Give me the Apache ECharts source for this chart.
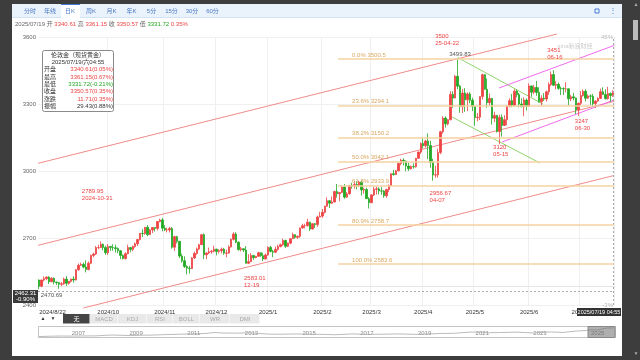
<!DOCTYPE html>
<html><head><meta charset="utf-8">
<script src="https://cdn.jsdelivr.net/npm/echarts@6/dist/echarts.min.js"></script>
<style>
html,body{margin:0;padding:0;background:#3d3d3d;overflow:hidden;}
#panel{position:absolute;left:12px;top:4px;width:610px;height:352px;background:#fff;}
#c{position:absolute;left:0;top:0;width:640px;height:360px;}
</style>
</head><body><div id="panel"></div><div id="c"></div>
<script>
// ---------- data ----------
const dates = [
'2024/8/22','2024/8/23','2024/8/26','2024/8/27','2024/8/28','2024/8/29','2024/8/30',
'2024/9/2','2024/9/3','2024/9/4','2024/9/5','2024/9/6','2024/9/9','2024/9/10','2024/9/11','2024/9/12','2024/9/13','2024/9/16','2024/9/17','2024/9/18','2024/9/19','2024/9/20','2024/9/23','2024/9/24','2024/9/25','2024/9/26','2024/9/27','2024/9/30',
'2024/10/1','2024/10/2','2024/10/3','2024/10/4','2024/10/7','2024/10/8','2024/10/9','2024/10/10','2024/10/11','2024/10/14','2024/10/15','2024/10/16','2024/10/17','2024/10/18','2024/10/21','2024/10/22','2024/10/23','2024/10/24','2024/10/25','2024/10/28','2024/10/29','2024/10/30','2024/10/31',
'2024/11/1','2024/11/4','2024/11/5','2024/11/6','2024/11/7','2024/11/8','2024/11/11','2024/11/12','2024/11/13','2024/11/14','2024/11/15','2024/11/18','2024/11/19','2024/11/20','2024/11/21','2024/11/22','2024/11/25','2024/11/26','2024/11/27','2024/11/28','2024/11/29',
'2024/12/2','2024/12/3','2024/12/4','2024/12/5','2024/12/6','2024/12/9','2024/12/10','2024/12/11','2024/12/12','2024/12/13','2024/12/16','2024/12/17','2024/12/18','2024/12/19','2024/12/20','2024/12/23','2024/12/24','2024/12/26','2024/12/27','2024/12/30','2024/12/31',
'2025/1/2','2025/1/3','2025/1/6','2025/1/7','2025/1/8','2025/1/9','2025/1/10','2025/1/13','2025/1/14','2025/1/15','2025/1/16','2025/1/17','2025/1/20','2025/1/21','2025/1/22','2025/1/23','2025/1/24','2025/1/27','2025/1/28','2025/1/29','2025/1/30','2025/1/31',
'2025/2/3','2025/2/4','2025/2/5','2025/2/6','2025/2/7','2025/2/10','2025/2/11','2025/2/12','2025/2/13','2025/2/14','2025/2/17','2025/2/18','2025/2/19','2025/2/20','2025/2/21','2025/2/24','2025/2/25','2025/2/26','2025/2/27','2025/2/28',
'2025/3/3','2025/3/4','2025/3/5','2025/3/6','2025/3/7','2025/3/10','2025/3/11','2025/3/12','2025/3/13','2025/3/14','2025/3/17','2025/3/18','2025/3/19','2025/3/20','2025/3/21','2025/3/24','2025/3/25','2025/3/26','2025/3/27','2025/3/28','2025/3/31',
'2025/4/1','2025/4/2','2025/4/3','2025/4/4','2025/4/7','2025/4/8','2025/4/9','2025/4/10','2025/4/11','2025/4/14','2025/4/15','2025/4/16','2025/4/17','2025/4/21','2025/4/22','2025/4/23','2025/4/24','2025/4/25','2025/4/28','2025/4/29','2025/4/30',
'2025/5/1','2025/5/2','2025/5/5','2025/5/6','2025/5/7','2025/5/8','2025/5/9','2025/5/12','2025/5/13','2025/5/14','2025/5/15','2025/5/16','2025/5/19','2025/5/20','2025/5/21','2025/5/22','2025/5/23','2025/5/26','2025/5/27','2025/5/28','2025/5/29','2025/5/30',
'2025/6/2','2025/6/3','2025/6/4','2025/6/5','2025/6/6','2025/6/9','2025/6/10','2025/6/11','2025/6/12','2025/6/13','2025/6/16','2025/6/17','2025/6/18','2025/6/19','2025/6/20','2025/6/23','2025/6/24','2025/6/25','2025/6/26','2025/6/27','2025/6/30',
'2025/7/1','2025/7/2','2025/7/3','2025/7/4','2025/7/7','2025/7/8','2025/7/9','2025/7/10','2025/7/11','2025/7/14','2025/7/15','2025/7/16','2025/7/17','2025/7/18'
];
const opens = [
2512,2484,2512,2518,2525,2504,2520,
2503,2500,2493,2495,2516,2497,2506,2516,2512,2558,2578,2582,2570,2559,2587,2622,2628,2657,2657,2672,2658,
2634,2662,2657,2656,2653,2643,2622,2608,2630,2657,2649,2662,2674,2693,2721,2720,2748,2715,2736,2747,2743,2774,2781,
2744,2736,2736,2742,2659,2706,2685,2619,2598,2572,2565,2563,2611,2631,2651,2670,2715,2625,2633,2638,2641,
2650,2640,2643,2650,2632,2633,2660,2694,2718,2681,2648,2652,2646,2587,2594,2622,2612,2618,2634,2621,2606,
2624,2658,2640,2636,2649,2662,2670,2689,2663,2677,2697,2715,2703,2708,2745,2755,2755,2771,2740,2764,2760,2794,
2798,2815,2842,2867,2856,2861,2908,2898,2904,2928,2883,2898,2935,2933,2939,2936,2951,2915,2917,2876,
2858,2893,2918,2920,2911,2910,2889,2917,2935,2988,2984,3001,3034,3048,3044,3022,3010,3020,3019,3057,3085,
3123,3113,3134,3114,3038,2982,2983,3083,3176,3237,3211,3229,3343,3327,3424,3380,3288,3349,3319,3345,3317,
3288,3239,3241,3334,3431,3366,3306,3325,3236,3249,3177,3240,3204,3230,3290,3315,3294,3357,3342,3300,3288,3318,
3289,3381,3353,3374,3352,3310,3326,3322,3355,3387,3432,3384,3388,3370,3369,3368,3368,3323,3332,3327,3274,
3303,3338,3357,3326,3336,3335,3302,3313,3325,3355,3343,3324,3347,3340.61
];
const highs = [
2514,2513,2528,2528,2529,2524,2523,
2504,2503,2503,2523,2529,2507,2518,2529,2560,2586,2590,2590,2600,2595,2625,2634,2664,2670,2685,2675,2665,
2673,2665,2672,2670,2658,2645,2626,2636,2670,2660,2666,2680,2696,2722,2740,2749,2758,2741,2748,2749,2775,2786,2789.95,
2758,2746,2750,2749,2710,2710,2686,2630,2618,2578,2575,2615,2639,2657,2674,2716,2721,2635,2657,2647,2665,
2652,2650,2657,2656,2648,2667,2697,2726,2726,2685,2660,2653,2664,2628,2633,2624,2620,2638,2636,2634,2630,
2662,2665,2647,2662,2670,2675,2697,2692,2679,2698,2724,2717,2711,2746,2764,2764,2786,2772,2766,2767,2800,2817,
2830,2845,2882,2870,2886,2912,2942,2906,2935,2942,2906,2938,2947,2955,2954,2956,2953,2925,2925,2883,
2896,2928,2930,2927,2930,2914,2921,2940,2990,3005,3004,3038,3055,3057,3047,3036,3025,3034,3059,3087,3128,
3149,3140,3168,3136,3055,3023,3100,3180,3245,3245,3232,3357,3357,3430,3499.83,3386,3367,3371,3352,3353,3328,
3290,3260,3334,3436,3433,3414,3347,3327,3265,3251,3252,3253,3250,3295,3325,3345,3366,3365,3350,3325,3330,3325,
3392,3382,3385,3403,3375,3339,3349,3360,3397,3446,3451,3403,3396,3378,3375,3398,3369,3341,3350,3329,3307,
3358,3365,3366,3343,3343,3345,3317,3330,3369,3375,3366,3377,3352,3361.15
];
const lows = [
2470.69,2480,2506,2511,2494,2503,2492,
2490,2472,2484,2490,2485,2491,2500,2500,2510,2553,2575,2564,2546,2555,2583,2614,2624,2650,2655,2645,2625,
2624,2642,2643,2635,2632,2605,2604,2603,2627,2636,2641,2656,2664,2689,2704,2714,2708,2714,2722,2729,2734,2770,2730,
2731,2725,2725,2652,2643,2676,2610,2589,2566,2537,2541,2561,2606,2625,2646,2669,2605,2605,2628,2630,2636,
2622,2631,2631,2625,2613,2630,2657,2689,2677,2643,2640,2637,2590,2583.01,2592,2602,2609,2615,2616,2597,2604,
2621,2636,2614,2634,2643,2658,2665,2656,2659,2672,2696,2697,2696,2701,2742,2743,2751,2731,2738,2745,2750,2793,
2790,2810,2840,2834,2853,2860,2881,2864,2902,2876,2881,2894,2921,2921,2918,2929,2890,2898,2875,2832,
2857,2888,2895,2895,2894,2880,2880,2905,2932,2979,2982,2998,3025,3025,2999,3000,3007,3011,3015,3055,3076,
3101,3105,3054,3015,2956.67,2970,2970,3075,3167,3194,3204,3228,3283,3325,3366,3260,3259,3265,3268,3303,3268,
3202,3222,3228,3320,3364,3283,3293,3208,3219,3172,3120,3154,3202,3205,3285,3286,3288,3330,3285,3285,3245,3271,
3288,3333,3344,3337,3306,3293,3314,3311,3341,3380,3381,3366,3363,3340,3340,3352,3295,3312,3316,3255,3247,
3296,3333,3311,3323,3296,3287,3282,3310,3322,3341,3320,3319,3310,3331.72
];
const closes = [
2484,2512,2518,2525,2504,2520,2503,
2500,2493,2495,2516,2497,2506,2516,2512,2558,2578,2582,2570,2559,2587,2622,2628,2657,2657,2672,2658,2634,
2662,2657,2656,2653,2643,2622,2608,2630,2657,2649,2662,2674,2693,2721,2720,2748,2715,2736,2747,2743,2774,2781,2744,
2736,2736,2742,2659,2706,2685,2619,2598,2572,2565,2563,2611,2631,2651,2670,2715,2625,2633,2638,2641,2650,
2640,2643,2650,2632,2633,2660,2694,2718,2681,2648,2652,2646,2587,2594,2622,2612,2618,2634,2621,2606,2624,
2658,2640,2636,2649,2662,2670,2689,2663,2677,2697,2715,2703,2708,2745,2755,2755,2771,2740,2764,2760,2794,2798,
2815,2842,2867,2856,2861,2908,2898,2904,2928,2883,2898,2935,2933,2939,2936,2951,2915,2917,2876,2858,
2893,2918,2920,2911,2910,2889,2917,2935,2988,2984,3001,3034,3048,3044,3022,3010,3020,3019,3057,3085,3123,
3113,3134,3114,3038,2982,2983,3083,3176,3237,3211,3229,3343,3327,3424,3380,3288,3349,3319,3345,3317,3288,
3239,3241,3334,3431,3366,3306,3325,3236,3249,3177,3240,3204,3230,3290,3315,3294,3357,3342,3300,3288,3318,3289,
3381,3353,3374,3352,3310,3326,3322,3355,3387,3432,3384,3388,3370,3369,3368,3368,3323,3332,3327,3274,3303,
3338,3357,3326,3336,3335,3302,3313,3325,3355,3343,3324,3347,3338,3350.57
];
const yTicks = [2400, 2700, 3000, 3300, 3600];
// trend lines: [candle index, price] endpoints
const redTop    = [[-0.5, 3034.4], [210.3, 3613.4]];
const redMid    = [[-0.5, 2667.2], [233.5, 3311.6]];
const redBottom = [[17.9, 2386.5], [233.5, 2979.8]];
const greenTop  = [[170.0, 3508], [204.6, 3300]];
const greenBot  = [[167.7, 3241.8], [203.4, 3035.8]];
const pinkTop   = [[186.8, 3371.6], [233.5, 3562]];
const pinkBot   = [[188.0, 3129.8], [233.5, 3317.9]];
// Fibonacci levels
const fibPct = ['0.0%', '23.6%', '38.2%', '50.0%', '61.8%', '80.9%', '100.0%'];
const fibVal = [3500.5, 3294.1, 3150.2, 3042.1, 2933.9, 2758.7, 2583.6];
const fibStart = 121.4;
// extreme annotations
const noteDate  = ['2025/4/22', '2025/4/22', '2025/6/16', '2025/5/15', '2025/6/30', '2025/4/7', '2024/12/19', '2024/10/31', '2024/8/22'];
const notePrice = [3499.83, 3499.83, 3451, 3120, 3247, 2956.67, 2583.01, 2789.95, 2470.69];
const noteText  = ['3500\n25-04-22', '3499.83', '3451\n06-16', '3120\n05-15', '3247\n06-30', '2956.67\n04-07', '2583.01\n12-19', '2789.95\n2024-10-31', '2470.69'];
const crossPrice = 2462.31;
// navigator (long history)
const navX = [2005.6,2006.0,2006.4,2006.8,2007.2,2007.6,2008.0,2008.2,2008.8,2009.2,2009.6,2010.0,2010.5,2011.0,2011.4,2011.7,2012.0,2012.5,2012.9,2013.3,2013.6,2014.0,2014.5,2015.0,2015.5,2015.9,2016.5,2017.0,2017.6,2018.1,2018.7,2019.0,2019.6,2020.0,2020.6,2021.0,2021.2,2021.6,2022.2,2022.8,2023.0,2023.4,2023.8,2024.0,2024.3,2024.6,2024.8,2025.0,2025.3,2025.55];
const navY = [440,560,630,610,660,680,900,960,780,900,950,1100,1230,1380,1480,1800,1650,1590,1720,1450,1280,1230,1320,1260,1170,1060,1330,1190,1250,1340,1190,1280,1500,1530,1970,1880,1730,1800,1930,1630,1830,1990,1830,2060,2330,2450,2740,2650,3300,3350];
const navYears = [2007, 2009, 2011, 2013, 2015, 2017, 2019, 2021, 2023, 2025];

// ---------- chart ----------
const F = '"Liberation Sans","Noto Sans CJK SC",sans-serif';
const RED = '#ee4444', GREEN = '#22a822', GRAY = '#555';
const N = dates.length;
const kData = dates.map((d, i) => [opens[i], closes[i], lows[i], highs[i]]);
const month = i => dates[i].split('/')[1];
const isMonthStart = i => i > 0 && month(i) !== month(i - 1);
const showLbl = i => i === 0 || (isMonthStart(i) && i > 12);
const base = closes[0];
const pctMin = (yTicks[0] / base - 1) * 100, pctMax = (yTicks[yTicks.length - 1] / base - 1) * 100;

const noteOffsets = [[-22,-26],[-8,-8],[-6,-23],[-6,0],[-3,3],[-3,10],[-4,11],[-80,-30],[2,3]];
const noteColors = [RED, GRAY, RED, RED, RED, RED, RED, RED, GRAY];

function seg(pts, color) {
  return { type: 'line', xAxisIndex: 1, yAxisIndex: 0, data: pts, symbol: 'none', clip: false, silent: true,
    lineStyle: { color: color, width: 1 }, z: 3, animation: false };
}

const option = {
  animation: false,
  textStyle: { fontFamily: F },
  grid: [
    { left: 38, width: 576, top: 37, height: 268 },
    { left: 38, width: 577, top: 326, height: 11 }
  ],
  xAxis: [
    { type: 'category', gridIndex: 0, data: dates.map((d, i) => i === 0 ? { value: d, textStyle: { align: 'left' } } : d),
      boundaryGap: true,
      axisLine: { show: true, lineStyle: { color: '#e6e6e6' } }, axisTick: { show: false },
      axisLabel: { interval: (i) => showLbl(i), fontSize: 6, color: '#333', margin: 4, alignMinLabel: 'left',
        formatter: (v, i) => i === 0 ? v : v.split('/').slice(0, 2).join('/') },
      splitLine: { show: true, interval: (i) => isMonthStart(i) && i > 12, lineStyle: { color: '#efefef', width: 1 } } },
    { type: 'value', gridIndex: 0, min: -0.5, max: N - 0.5, show: false },
    { type: 'value', gridIndex: 1, min: 2005.6, max: 2025.6, axisLine: { show: false }, axisTick: { show: false },
      splitLine: { show: false },
      axisLabel: { inside: true, customValues: navYears, fontSize: 6, color: '#888', margin: 1, formatter: v => String(v) } }
  ],
  yAxis: [
    { type: 'value', gridIndex: 0, min: yTicks[0], max: yTicks[yTicks.length - 1], interval: 300, position: 'left',
      axisLine: { show: false }, axisTick: { show: false },
      axisLabel: { fontSize: 6, color: '#666', margin: 2, formatter: v => String(v) },
      splitLine: { lineStyle: { color: '#f0f0f0' } } },
    { type: 'value', gridIndex: 0, min: pctMin, max: pctMax, position: 'right',
      axisLine: { show: false }, axisTick: { show: false }, splitLine: { show: false },
      axisLabel: { inside: true, customValues: [pctMin, pctMax], margin: 1, fontSize: 6, color: '#bbb',
        formatter: v => Math.round(v) + '%' } },
    { type: 'value', gridIndex: 1, min: 300, max: 4000, show: false }
  ],
  series: [
    { type: 'candlestick', xAxisIndex: 0, yAxisIndex: 0, data: kData, barWidth: 2, z: 4,
      itemStyle: { color: RED, color0: GREEN, borderColor: RED, borderColor0: GREEN, borderWidth: 0.8 },
      markPoint: { silent: true, symbol: 'rect', symbolSize: 1, itemStyle: { color: 'rgba(0,0,0,0)' },
        data: noteDate.map((d, k) => ({ coord: [d, notePrice[k]],
          label: { show: true, position: [0, 0], offset: noteOffsets[k], formatter: noteText[k], color: noteColors[k],
            fontSize: 6, lineHeight: 7, fontFamily: F, align: 'left', verticalAlign: 'top' } })) },
      markLine: { silent: true, symbol: 'none', label: { show: false },
        lineStyle: { color: '#aaa', type: [2, 2], width: 1 },
        data: [{ xAxis: N - 1 }, { yAxis: crossPrice }] } },
    seg(redTop, '#f58a8a'), seg(redMid, '#f58a8a'), seg(redBottom, '#f58a8a'),
    seg(greenTop, '#8fd46a'), seg(greenBot, '#8fd46a'),
    seg(pinkTop, '#ee6bee'), seg(pinkBot, '#ee6bee'),
    { type: 'line', xAxisIndex: 1, yAxisIndex: 0, data: [], silent: true, z: 2,
      markLine: { silent: true, symbol: 'none',
        lineStyle: { color: '#f4d3a1', width: 1.6, type: 'solid' },
        label: { show: true, position: 'insideStartTop', distance: [14, 1], fontSize: 6, color: '#d9a860', fontFamily: F },
        data: fibVal.map((v, k) => [
          { coord: [fibStart, v], label: { formatter: fibPct[k] + ' ' + v.toFixed(1) } },
          { coord: [N - 0.5, v] }]) } },
    { type: 'line', xAxisIndex: 2, yAxisIndex: 2, data: navX.map((x, i) => [x, navY[i]]), symbol: 'none', silent: true,
      lineStyle: { color: '#aaa', width: 0.8 } }
  ],
  graphic: { elements: buildGraphics() }
};

function txt(text, x, y, fill, size, align, extra) {
  return Object.assign({ type: 'text', silent: true, z: 50, style: { text: text, x: x, y: y, fill: fill, fontSize: size || 6,
    fontFamily: F, align: align || 'center', verticalAlign: 'middle' } }, extra || {});
}
function buildGraphics() {
  const g = [];
  // toolbar
  g.push({ type: 'rect', z: 40, silent: true, shape: { x: 12, y: 4, width: 610, height: 13 }, style: { fill: '#eaf2fc' } });
  g.push({ type: 'line', z: 41, silent: true, shape: { x1: 12, y1: 17.5, x2: 622, y2: 17.5 }, style: { stroke: '#d3e2f4', lineWidth: 1 } });
  g.push({ type: 'rect', z: 41, silent: true, shape: { x: 61, y: 4, width: 19, height: 14 }, style: { fill: '#fff' } });
  g.push({ type: 'line', z: 42, silent: true, shape: { x1: 61, y1: 4.5, x2: 80, y2: 4.5 }, style: { stroke: '#3f7ad0', lineWidth: 1 } });
  const tabs = ['分时', '年线', '日K', '周K', '月K', '年K', '5分', '15分', '30分', '60分'];
  const tabX = [30, 50, 70, 91, 111.5, 131.5, 151.5, 171.5, 192, 212.5];
  tabs.forEach((t, i) => g.push(txt(t, tabX[i], 11, '#4a78c2', 6)));
  // top-right icons
  const ic = '#4a7fd0';
  [[594, 8, 1, 1], [600, 8, -1, 1], [594, 14, 1, -1], [600, 14, -1, -1]].forEach(([x, y, sx, sy]) => {
    g.push({ type: 'polyline', z: 45, silent: true, shape: { points: [[x + sx * 2, y], [x + sx * 2, y + sy * 2], [x, y + sy * 2]] },
      style: { stroke: ic, lineWidth: 1, fill: null } });
  });
  g.push(txt('⋮', 613, 11, ic, 8));
  // info line
  g.push({ type: 'text', z: 50, silent: true, style: { x: 15, y: 24, verticalAlign: 'middle', fontFamily: F, fontSize: 6,
    text: '{g|2025/07/19 开 }{r|3340.61}{g| 高 }{r|3361.15}{g| 收 }{r|3350.57}{g| 低 }{n|3331.72}{r| 0.35%}',
    rich: { g: { fill: '#666', fontSize: 6, fontFamily: F }, r: { fill: RED, fontSize: 6, fontFamily: F }, n: { fill: GREEN, fontSize: 6, fontFamily: F } } } });
  // info box
  g.push({ type: 'rect', z: 60, silent: true, shape: { x: 42.5, y: 50.5, width: 71, height: 61, r: 2 },
    style: { fill: 'rgba(255,255,255,0.96)', stroke: '#8a8a8a', lineWidth: 1 } });
  g.push(txt('伦敦金（现货黄金）', 78, 55.5, '#333', 6, 'center', { z: 61 }));
  g.push(txt('2025/07/19/六04:55', 78, 62.5, '#333', 6, 'center', { z: 61 }));
  const rl = ['开盘', '最高', '最低', '收盘', '涨跌', '振幅'];
  const rv = ['3340.61(0.05%)', '3361.15(0.67%)', '3331.72(-0.21%)', '3350.57(0.35%)', '11.71(0.35%)', '29.43(0.88%)'];
  const rc = [RED, RED, GREEN, RED, RED, '#333'];
  rl.forEach((t, i) => {
    const y = 69.5 + i * 7.4;
    g.push(txt(t, 44, y, '#333', 6, 'left', { z: 61 }));
    g.push(txt(rv[i], 113, y, rc[i], 6, 'right', { z: 61 }));
  });
  // watermark
  g.push(txt('sina新浪财经', 575, 46, 'rgba(160,160,160,0.55)', 6, 'center', { z: 30 }));
  // crosshair y label
  g.push({ type: 'rect', z: 62, silent: true, shape: { x: 13, y: 290, width: 25, height: 13 }, style: { fill: '#3a3a3a' } });
  g.push(txt('2462.31', 25.5, 293.5, '#fff', 6, 'center', { z: 63 }));
  g.push(txt('-0.90%', 25.5, 299.5, '#fff', 6, 'center', { z: 63 }));
  // crosshair x label
  g.push({ type: 'rect', z: 62, silent: true, shape: { x: 577, y: 308, width: 44, height: 8 }, style: { fill: '#333' } });
  g.push(txt('2025/07/19 04:55', 599, 312, '#fff', 5.5, 'center', { z: 63 }));
  // indicator tabs
  g.push(txt('▲', 43, 319, '#333', 5));
  g.push(txt('▼', 53, 319, '#333', 5));
  const ind = ['无', 'MACD', 'KDJ', 'RSI', 'BOLL', 'WR', 'DMI'];
  const edges = [63, 90, 118, 147, 173, 200, 230, 260];
  ind.forEach((t, i) => {
    const sel = i === 0;
    g.push({ type: 'rect', z: 40, silent: true, shape: { x: edges[i], y: 314, width: edges[i + 1] - edges[i] - 0.5, height: 9.5 },
      style: { fill: sel ? '#454545' : '#e9e9e9' } });
    g.push(txt(t, (edges[i] + edges[i + 1]) / 2, 319, sel ? '#fff' : '#aaa', 6, 'center', { z: 41 }));
  });
  // navigator frame + window
  g.push({ type: 'rect', z: 20, silent: true, shape: { x: 38.5, y: 326.5, width: 577, height: 11 },
    style: { fill: null, stroke: '#c4c4c4', lineWidth: 1 } });
  g.push({ type: 'rect', z: 21, silent: true, shape: { x: 588, y: 326.5, width: 27, height: 11 },
    style: { fill: 'rgba(110,110,110,0.55)', stroke: '#888', lineWidth: 1 } });
  // scrollbar
  g.push(txt('▲', 636, 5, '#aaa', 5));
  g.push({ type: 'rect', z: 40, silent: true, shape: { x: 633, y: 20, width: 5, height: 20 }, style: { fill: '#bdbdbd' } });
  g.push(txt('▼', 636, 354, '#aaa', 5));
  return g;
}

const chart = echarts.init(document.getElementById('c'), null, { renderer: 'canvas' });
chart.setOption(option);
</script>
</body></html>
